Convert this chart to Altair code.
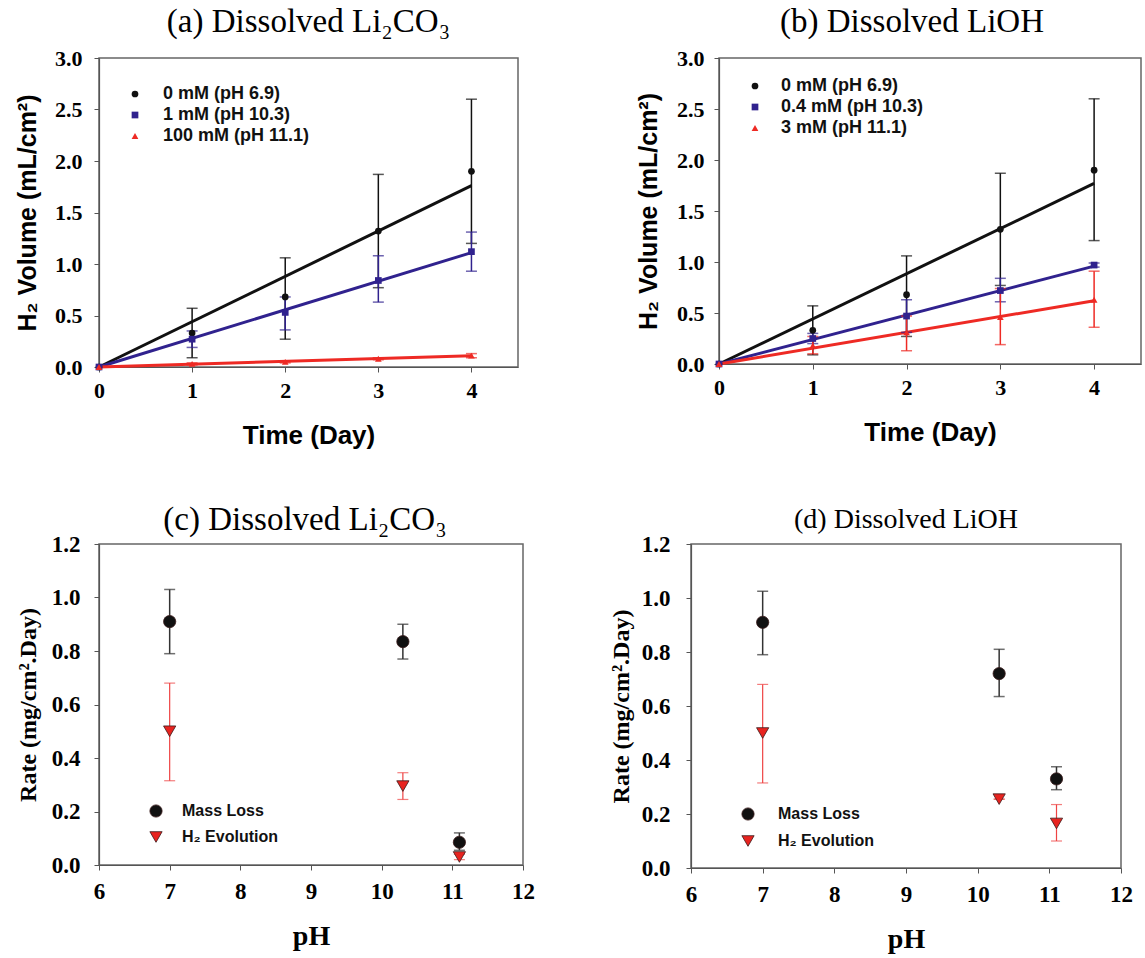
import altair as alt
import pandas as pd

# ---------------- data: panels (a) and (b) ----------------
days = [0, 1, 2, 3, 4]
fit_days = [0, 4]

a_labels = ["0 mM (pH 6.9)", "1 mM (pH 10.3)", "100 mM (pH 11.1)"]
a_black = [0.0, 0.33, 0.68, 1.32, 1.90]
a_black_lo = [0.0, 0.09, 0.27, 0.77, 1.20]
a_black_hi = [0.0, 0.57, 1.06, 1.87, 2.60]
a_blue = [0.0, 0.27, 0.53, 0.84, 1.12]
a_blue_lo = [0.0, 0.19, 0.36, 0.63, 0.93]
a_blue_hi = [0.0, 0.35, 0.68, 1.08, 1.31]
a_red = [0.0, 0.03, 0.05, 0.08, 0.11]
a_red_lo = [0.0, 0.02, 0.04, 0.07, 0.09]
a_red_hi = [0.0, 0.04, 0.06, 0.09, 0.13]
a_fit_end = [1.76, 1.11, 0.11]

b_labels = ["0 mM (pH 6.9)", "0.4 mM (pH 10.3)", "3 mM (pH 11.1)"]
b_black = [0.0, 0.33, 0.68, 1.32, 1.90]
b_black_lo = [0.0, 0.09, 0.27, 0.77, 1.21]
b_black_hi = [0.0, 0.57, 1.06, 1.87, 2.60]
b_blue = [0.0, 0.25, 0.47, 0.72, 0.97]
b_blue_lo = [0.0, 0.20, 0.31, 0.61, 0.95]
b_blue_hi = [0.0, 0.30, 0.63, 0.84, 0.99]
b_red = [0.0, 0.18, 0.31, 0.46, 0.63]
b_red_lo = [0.0, 0.10, 0.13, 0.19, 0.36]
b_red_hi = [0.0, 0.27, 0.47, 0.74, 0.91]
b_fit_end = [1.77, 0.96, 0.62]

# ---------------- data: panels (c) and (d) ----------------
ph = [7.0, 10.3, 11.1]
rate_labels = ["Mass Loss", "H\u2082 Evolution"]
c_mass = [0.91, 0.835, 0.085]
c_mass_lo = [0.79, 0.77, 0.055]
c_mass_hi = [1.03, 0.90, 0.12]
c_h2 = [0.50, 0.295, 0.03]
c_h2_lo = [0.315, 0.245, 0.02]
c_h2_hi = [0.68, 0.345, 0.04]
d_mass = [0.91, 0.72, 0.33]
d_mass_lo = [0.79, 0.635, 0.29]
d_mass_hi = [1.025, 0.81, 0.375]
d_h2 = [0.50, 0.255, 0.165]
d_h2_lo = [0.315, 0.255, 0.10]
d_h2_hi = [0.68, 0.255, 0.235]

# ---------------- styles ----------------
series_colors = ["#111111", "#30228e", "#ee2a24"]
series_shapes = ["circle", "square", "triangle-up"]
rate_colors = ["#111111", "#e8231f"]
rate_shapes = ["circle", "triangle-down"]
rate_bar_colors = ["#333333", "#ee4444"]

SERIF = "Liberation Serif"
SANS = "Liberation Sans"


def axis_style(label_size, title_font, title_size, title_pad, label_pad):
    return dict(
        labelFont=SERIF, labelFontWeight="bold", labelFontSize=label_size,
        labelColor="black", labelPadding=label_pad, labelFlush=False,
        titleFont=title_font, titleFontWeight="bold", titleFontSize=title_size,
        titleColor="black", titlePadding=title_pad,
        tickSize=5, tickColor="#555555", domainColor="#555555", domainWidth=1.2,
        grid=False)


def time_panel(title, labels, vals, los, his, fits, w, h, lx, ly, lab_off,
               ylab_pad, ytitle_pad, t_offset, t_dx):
    xs = alt.Scale(domain=[0, 4.5], nice=False, zero=False)
    ys = alt.Scale(domain=[0, 3.0], nice=False)
    xaxis = alt.Axis(values=days, format="d", **axis_style(22, SANS, 26, 21, 8))
    yaxis = alt.Axis(values=[0, 0.5, 1.0, 1.5, 2.0, 2.5, 3.0], format=".1f",
                     **axis_style(22, SANS, 25, ytitle_pad, ylab_pad))
    xt = "Time (Day)"
    yt = "H\u2082 Volume (mL/cm\u00b2)"
    layers = []
    for lab, col, end in zip(labels, series_colors, fits):
        fdf = pd.DataFrame({"day": fit_days, "v": [0.0, end]})
        layers.append(
            alt.Chart(fdf).mark_line(color=col, strokeWidth=3, clip=False).encode(
                x=alt.X("day:Q", scale=xs, axis=xaxis, title=xt),
                y=alt.Y("v:Q", scale=ys, axis=yaxis, title=yt)))
    for v, lo, hi, col in zip(vals, los, his, series_colors):
        edf = pd.DataFrame({"day": days[1:], "lo": lo[1:], "hi": hi[1:]})
        layers.append(
            alt.Chart(edf).mark_errorbar(ticks=True, color=col, thickness=1.5, size=11).encode(
                x=alt.X("day:Q", scale=xs, axis=xaxis, title=xt),
                y=alt.Y("lo:Q", scale=ys, axis=yaxis, title=yt),
                y2=alt.Y2("hi:Q")))
    rows = []
    for lab, v in zip(labels, vals):
        for d, val in zip(days, v):
            rows.append({"series": lab, "day": d, "v": val})
    pdf = pd.DataFrame(rows)
    leg = alt.Legend(orient="none", legendX=lx, legendY=ly, title=None,
                     labelFont=SANS, labelFontWeight="bold", labelFontSize=18,
                     labelColor="#111111", symbolSize=45, labelOffset=lab_off,
                     rowPadding=3, padding=0, symbolStrokeWidth=0)
    layers.append(
        alt.Chart(pdf).mark_point(filled=True, size=45, opacity=1, clip=False).encode(
            x=alt.X("day:Q", scale=xs, axis=xaxis, title=xt),
            y=alt.Y("v:Q", scale=ys, axis=yaxis, title=yt),
            color=alt.Color("series:N", scale=alt.Scale(domain=labels, range=series_colors),
                            legend=leg, title=None),
            shape=alt.Shape("series:N", scale=alt.Scale(domain=labels, range=series_shapes),
                            legend=leg, title=None)))
    return alt.layer(*layers).properties(
        width=w, height=h,
        title=alt.TitleParams(title, font=SERIF, fontSize=33, fontWeight="normal",
                              color="black", anchor="middle", offset=t_offset, dx=t_dx))


def rate_panel(title, mass, mass_lo, mass_hi, h2, h2_lo, h2_hi, w, h, lx, ly,
               ylab_pad, ytitle_pad, t_size, t_offset, t_dx, lab_off, row_pad):
    xs = alt.Scale(domain=[6, 12], nice=False, zero=False)
    ys = alt.Scale(domain=[0, 1.2], nice=False)
    xaxis = alt.Axis(values=[6, 7, 8, 9, 10, 11, 12], format="d",
                     **axis_style(23, SERIF, 28, 19, 10))
    yaxis = alt.Axis(values=[0, 0.2, 0.4, 0.6, 0.8, 1.0, 1.2], format=".1f",
                     **axis_style(23, SERIF, 24, ytitle_pad, ylab_pad))
    xt = "pH"
    yt = "Rate (mg/cm\u00b2.Day)"
    layers = []
    for lo, hi, col, th in [(mass_lo, mass_hi, rate_bar_colors[0], 1.5),
                            (h2_lo, h2_hi, rate_bar_colors[1], 1.2)]:
        edf = pd.DataFrame({"ph": ph, "lo": lo, "hi": hi})
        layers.append(
            alt.Chart(edf).mark_errorbar(ticks=True, color=col, thickness=th, size=11).encode(
                x=alt.X("ph:Q", scale=xs, axis=xaxis, title=xt),
                y=alt.Y("lo:Q", scale=ys, axis=yaxis, title=yt),
                y2=alt.Y2("hi:Q")))
    rows = []
    for lab, v in zip(rate_labels, [mass, h2]):
        for p, val in zip(ph, v):
            rows.append({"series": lab, "ph": p, "v": val})
    pdf = pd.DataFrame(rows)
    leg = alt.Legend(orient="none", legendX=lx, legendY=ly, title=None,
                     labelFont=SANS, labelFontWeight="bold", labelFontSize=16,
                     labelColor="#111111", symbolSize=150, labelOffset=lab_off,
                     rowPadding=row_pad, padding=0, symbolStrokeColor="#3a1a1a",
                     symbolStrokeWidth=0.8)
    layers.append(
        alt.Chart(pdf).mark_point(filled=True, size=150, opacity=1, stroke="#3a1a1a",
                                  strokeWidth=0.8).encode(
            x=alt.X("ph:Q", scale=xs, axis=xaxis, title=xt),
            y=alt.Y("v:Q", scale=ys, axis=yaxis, title=yt),
            color=alt.Color("series:N", scale=alt.Scale(domain=rate_labels, range=rate_colors),
                            legend=leg, title=None),
            shape=alt.Shape("series:N", scale=alt.Scale(domain=rate_labels, range=rate_shapes),
                            legend=leg, title=None)))
    return alt.layer(*layers).properties(
        width=w, height=h,
        title=alt.TitleParams(title, font=SERIF, fontSize=t_size, fontWeight="normal",
                              color="black", anchor="middle", offset=t_offset, dx=t_dx))


pa = time_panel("(a) Dissolved Li\u2082CO\u2083", a_labels,
                [a_black, a_blue, a_red], [a_black_lo, a_blue_lo, a_red_lo],
                [a_black_hi, a_blue_hi, a_red_hi], a_fit_end, 419, 309, 27, 27, 19,
                12, 14, 8, 0)
pb = time_panel("(b) Dissolved LiOH", b_labels,
                [b_black, b_blue, b_red], [b_black_lo, b_blue_lo, b_red_lo],
                [b_black_hi, b_blue_hi, b_red_hi], b_fit_end, 422, 306, 27, 19, 17,
                10, 15, 8, -18)
pc = rate_panel("(c) Dissolved Li\u2082CO\u2083", c_mass, c_mass_lo, c_mass_hi,
                c_h2, c_h2_lo, c_h2_hi, 424, 321, 49, 259, 14, 11, 33, -4, -6, 18, 10)
pd_ = rate_panel("(d) Dissolved LiOH", d_mass, d_mass_lo, d_mass_hi,
                 d_h2, d_h2_lo, d_h2_hi, 430, 324, 49, 262, 16, 8, 28, -1, 0, 22, 11)

top = alt.hconcat(pa, pb, spacing=116).resolve_scale(color="independent", shape="independent")
bottom = alt.hconcat(pc, pd_, spacing=72).resolve_scale(color="independent", shape="independent")

chart = alt.vconcat(top, bottom, spacing=54).resolve_scale(
    color="independent", shape="independent"
).properties(
    padding={"left": 14, "top": 5, "right": 0, "bottom": 0},
    background="white",
).configure_view(stroke="#666666", strokeWidth=1.5)

chart.save("out.html", embed_options={"renderer": "svg", "actions": False})
